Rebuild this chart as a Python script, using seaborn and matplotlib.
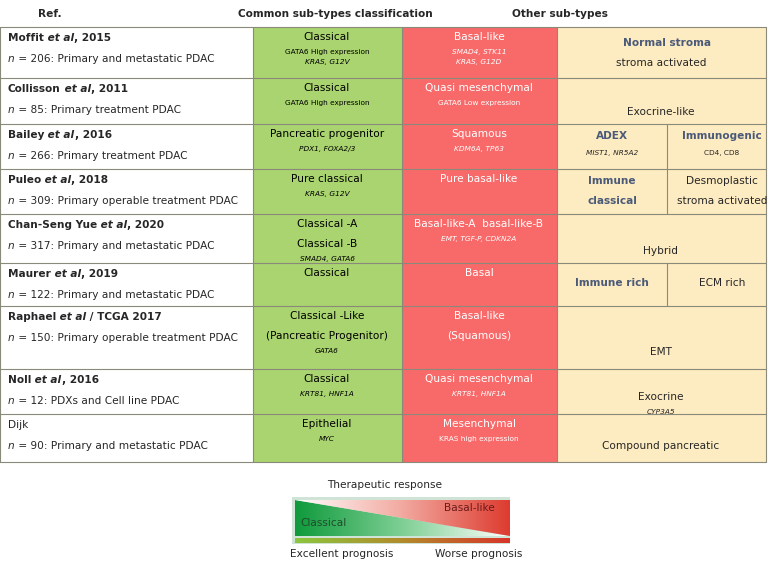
import numpy as np
import matplotlib
matplotlib.use("Agg")
import matplotlib.pyplot as plt
import seaborn as sns
from matplotlib.patches import Rectangle, Polygon
from matplotlib.colors import LinearSegmentedColormap

sns.set_style("white")

# ---- data ----
headers = ["Ref.", "Common sub-types classification", "Other sub-types"]
ref_titles = [("Moffit", " et al", ", 2015"), ("Collisson", " et al", ", 2011"),
              ("Bailey", " et al", ", 2016"), ("Puleo", " et al", ", 2018"),
              ("Chan-Seng Yue", " et al", ", 2020"), ("Maurer", " et al", ", 2019"),
              ("Raphael", " et al", " / TCGA 2017"), ("Noll", " et al", ", 2016"),
              ("Dijk", "", "")]
ref_n = ["206: Primary and metastatic PDAC", "85: Primary treatment PDAC",
         "266: Primary treatment PDAC", "309: Primary operable treatment PDAC",
         "317: Primary and metastatic PDAC", "122: Primary and metastatic PDAC",
         "150: Primary operable treatment PDAC", "12: PDXs and Cell line PDAC",
         "90: Primary and metastatic PDAC"]
common = [["Classical"], ["Classical"], ["Pancreatic progenitor"], ["Pure classical"],
          ["Classical -A", "Classical -B"], ["Classical"],
          ["Classical -Like", "(Pancreatic Progenitor)"], ["Classical"], ["Epithelial"]]
common_genes = ["GATA6 High expression\nKRAS, G12V", "GATA6 High expression", "PDX1, FOXA2/3",
                "KRAS, G12V", "SMAD4, GATA6", "", "GATA6", "KRT81, HNF1A", "MYC"]
basal = [["Basal-like"], ["Quasi mesenchymal"], ["Squamous"], ["Pure basal-like"],
         ["Basal-like-A  basal-like-B"], ["Basal"], ["Basal-like", "(Squamous)"],
         ["Quasi mesenchymal"], ["Mesenchymal"]]
basal_genes = ["SMAD4, STK11\nKRAS, G12D", "GATA6 Low expression", "KDM6A, TP63", "",
               "EMT, TGF-P, CDKN2A", "", "", "KRT81, HNF1A", "KRAS high expression"]
row_edges = [27, 78, 124, 169, 214, 263, 306, 369, 414, 462]
col_edges = [0, 253, 402, 557, 766]
legend_labels = ["Therapeutic response", "Classical", "Basal-like",
                 "Excellent prognosis", "Worse prognosis"]

W, H = 771, 564
fig = plt.figure(figsize=(W/100, H/100), dpi=100)
ax = fig.add_axes([0, 0, 1, 1])
ax.set_xlim(0, W); ax.set_ylim(H, 0); ax.axis("off")

GREEN, RED, YEL = "#a9d46f", "#f86a6a", "#fdebc1"
EDGE = "#8a8a7a"
top, bot = row_edges[0], row_edges[-1]
ax.add_patch(Rectangle((col_edges[1], top), col_edges[2]-col_edges[1], bot-top, fc=GREEN, ec="none"))
ax.add_patch(Rectangle((col_edges[2], top), col_edges[3]-col_edges[2], bot-top, fc=RED, ec="none"))
ax.add_patch(Rectangle((col_edges[3], top), col_edges[4]-col_edges[3], bot-top, fc=YEL, ec="none"))

fs = 7.6
gs = 5.3
ax.text(50, 14, headers[0], fontsize=fs, weight="bold", ha="center", va="center")
ax.text(335, 14, headers[1], fontsize=fs, weight="bold", ha="center", va="center")
ax.text(560, 14, headers[2], fontsize=fs, weight="bold", ha="center", va="center")

lw = 0.8
for y in row_edges:
    ax.plot([0, col_edges[4]], [y, y], color=EDGE, lw=lw)
for x in col_edges:
    ax.plot([x, x], [top, bot], color=EDGE, lw=lw)

for i in range(9):
    y0, y1 = row_edges[i], row_edges[i+1]
    a, b, c = ref_titles[i]
    t = ax.text(8, y0+11, a, fontsize=fs, weight="bold" if b else "normal", va="center")
    if b:
        t2 = ax.annotate(b, xycoords=t, xy=(1, 0), fontsize=fs, weight="bold", style="italic", va="bottom")
        ax.annotate(c, xycoords=t2, xy=(1, 0), fontsize=fs, weight="bold", va="bottom")
    t = ax.text(8, y0+32, "n", fontsize=fs, style="italic", va="center")
    ax.annotate(" = " + ref_n[i], xycoords=t, xy=(1, 0), fontsize=fs, va="bottom")
    for cx, lines, genes, col in [(327, common[i], common_genes[i], "black"),
                                  (479, basal[i], basal_genes[i], "white")]:
        yy = y0 + 10
        for ln in lines:
            ax.text(cx, yy, ln, fontsize=fs, ha="center", va="center", color=col)
            yy += 20
        yy -= 5
        for g in genes.split("\n") if genes else []:
            ax.text(cx, yy, g, fontsize=gs, ha="center", va="center", color=col,
                    style="italic" if "expression" not in g else "normal")
            yy += 10

# other subtypes (yellow column)
mid = 667
def split(i):
    ax.plot([mid, mid], [row_edges[i], row_edges[i+1]], color=EDGE, lw=lw)
BLUE = "#4a5a78"
ax.text(667, 43, "Normal stroma", fontsize=fs, weight="bold", color=BLUE, ha="center", va="center")
ax.text(661, 63, "stroma activated", fontsize=fs, ha="center", va="center")
ax.text(661, 112, "Exocrine-like", fontsize=fs, ha="center", va="center")
split(2)
ax.text(612, 136, "ADEX", fontsize=fs, weight="bold", color=BLUE, ha="center", va="center")
ax.text(612, 153, "MIST1, NR5A2", fontsize=gs, style="italic", ha="center", va="center")
ax.text(722, 136, "Immunogenic", fontsize=fs, weight="bold", color=BLUE, ha="center", va="center")
ax.text(722, 153, "CD4, CD8", fontsize=gs, ha="center", va="center")
split(3)
ax.text(612, 181, "Immune", fontsize=fs, weight="bold", color=BLUE, ha="center", va="center")
ax.text(612, 201, "classical", fontsize=fs, weight="bold", color=BLUE, ha="center", va="center")
ax.text(722, 181, "Desmoplastic", fontsize=fs, ha="center", va="center")
ax.text(722, 201, "stroma activated", fontsize=fs, ha="center", va="center")
ax.text(661, 251, "Hybrid", fontsize=fs, ha="center", va="center")
split(5)
ax.text(612, 283, "Immune rich", fontsize=fs, weight="bold", color=BLUE, ha="center", va="center")
ax.text(722, 283, "ECM rich", fontsize=fs, ha="center", va="center")
ax.text(661, 352, "EMT", fontsize=fs, ha="center", va="center")
ax.text(661, 397, "Exocrine", fontsize=fs, ha="center", va="center")
ax.text(661, 412, "CYP3A5", fontsize=gs, style="italic", ha="center", va="center")
ax.text(661, 446, "Compound pancreatic", fontsize=fs, ha="center", va="center")

# legend
ax.text(385, 485, legend_labels[0], fontsize=fs, ha="center", va="center")
x0, x1, ly0, ly1 = 292, 510, 497, 536
ax.add_patch(Rectangle((x0, ly0), x1-x0, 47, fc="#cfe3d6", ec="none"))
grad = np.linspace(0, 1, 256)[None, :]
gcm = LinearSegmentedColormap.from_list("g", ["#0f9a3c", "#7fcf95", "#ffffff"])
rcm = LinearSegmentedColormap.from_list("r", ["#ffffff", "#f2a9a0", "#de3b2f"])
im = ax.imshow(grad, cmap=gcm, extent=[x0+3, x1, ly1, ly0+3], aspect="auto", zorder=2)
im.set_clip_path(Polygon([(x0+3, ly0+3), (x1, ly1), (x0+3, ly1)], transform=ax.transData))
im = ax.imshow(grad, cmap=rcm, extent=[x0+3, x1, ly1, ly0+3], aspect="auto", zorder=2)
im.set_clip_path(Polygon([(x0+3, ly0+3), (x1, ly0+3), (x1, ly1)], transform=ax.transData))
bcm = LinearSegmentedColormap.from_list("b", ["#8cc63f", "#b28b2a", "#d9342b"])
ax.imshow(grad, cmap=bcm, extent=[x0+3, x1, 543, 538], aspect="auto", zorder=2)
ax.text(300, 523, legend_labels[1], fontsize=fs, color="#1d4d2a", va="center", zorder=3)
ax.text(495, 508, legend_labels[2], fontsize=fs, color="#6b1a1a", ha="right", va="center", zorder=3)
ax.text(290, 554, legend_labels[3], fontsize=fs, va="center")
ax.text(522, 554, legend_labels[4], fontsize=fs, ha="right", va="center")
ax.set_xlim(0, W); ax.set_ylim(H, 0)

fig.savefig("out.png", dpi=100)
